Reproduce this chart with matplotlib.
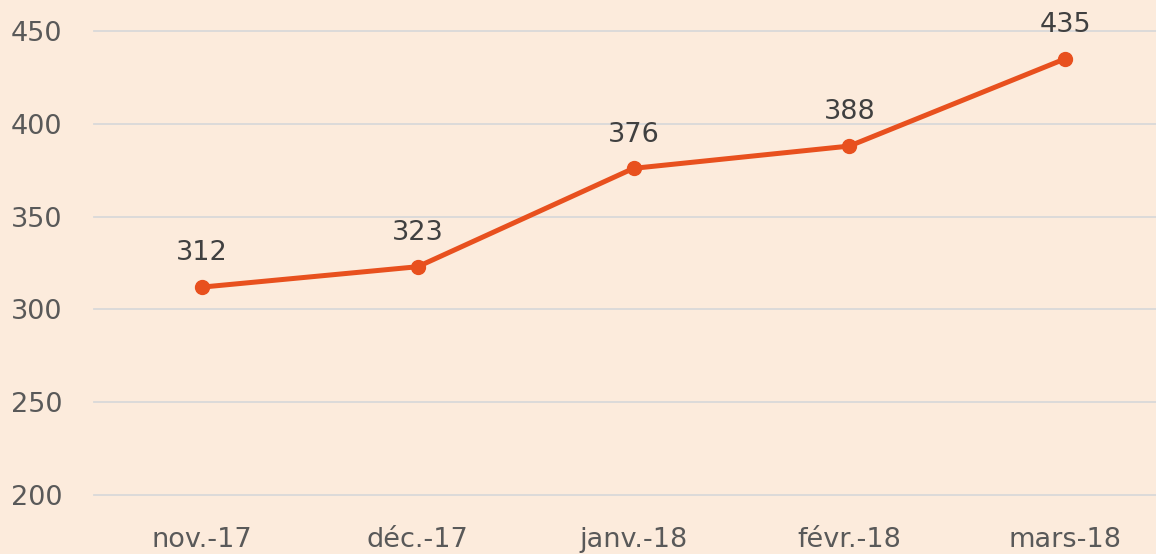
import matplotlib
matplotlib.use("Agg")
import matplotlib.pyplot as plt

categories = ["nov.-17", "déc.-17", "janv.-18", "févr.-18", "mars-18"]
values = [312, 323, 376, 388, 435]
yticks = [200, 250, 300, 350, 400, 450]

bg = "#FCEBDC"
line_color = "#E8501E"

fig = plt.figure(figsize=(11.56, 5.54), dpi=100, facecolor=bg)
ax = fig.add_axes([94/1156, (554-495)/554, 1079/1156, 464/554])
ax.set_facecolor(bg)

x = list(range(len(categories)))
ax.plot(x, values, color=line_color, lw=3.6, marker="o", ms=10, clip_on=False, zorder=3)
for xi, v in zip(x, values):
    ax.annotate(str(v), (xi, v), xytext=(0, 15), textcoords="offset points",
                ha="center", va="bottom", fontsize=19.5, color="#404040", annotation_clip=False)

ax.set_xlim(-0.5, 4.5)
ax.set_ylim(200, 450)
ax.set_yticks(yticks)
ax.set_xticks(x)
ax.set_xticklabels(categories)
ax.grid(axis="y", color="#D9D9D9", lw=1.3, clip_on=False)
ax.set_axisbelow(True)
for s in ax.spines.values():
    s.set_visible(False)
ax.tick_params(axis="both", length=0, labelsize=19.5, colors="#595959")
ax.tick_params(axis="y", pad=23)
ax.tick_params(axis="x", pad=23)
for gl in ax.get_ygridlines():
    gl.set_clip_on(False)

fig.savefig("out.png", dpi=100, facecolor=bg)
